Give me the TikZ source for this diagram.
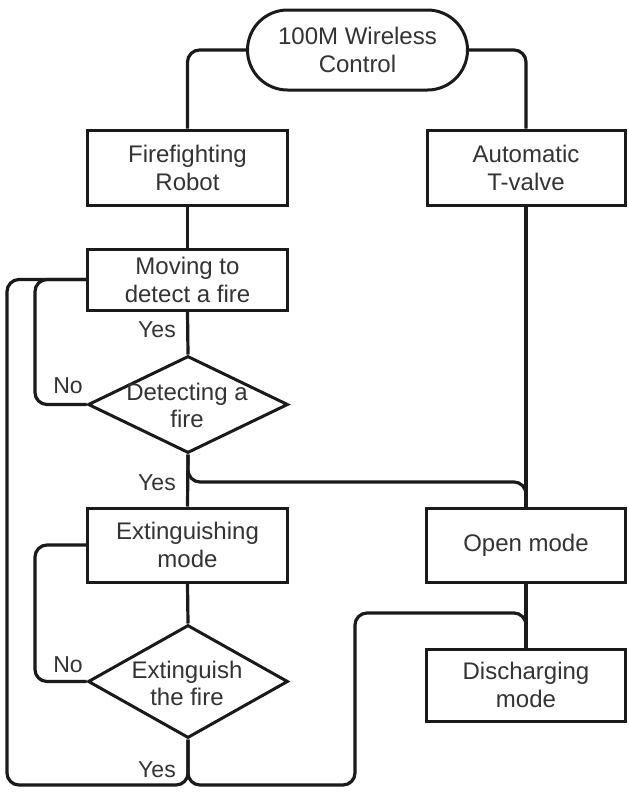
\documentclass[tikz,border=0pt]{standalone}
\usepackage{fontspec}
\setmainfont{Liberation Sans}
\usetikzlibrary{shapes.geometric}
\definecolor{ink}{HTML}{1A1A1A}
\definecolor{txt}{HTML}{333333}
\tikzset{
  x=1pt, y=-1pt,
  base/.style={draw=ink, line width=3pt, text=txt, inner sep=0pt, align=center,
    font=\fontsize{24}{28}\selectfont},
  procbox/.style={base, rectangle, minimum width=200pt},
  termbox/.style={base, rectangle, rounded corners=40pt, minimum width=220pt, minimum height=80pt},
  decide/.style={draw=ink, line width=3pt, diamond, inner sep=0pt, minimum width=200pt},
  dtext/.style={text=txt, align=center, font=\fontsize{24}{27}\selectfont},
  lbl/.style={text=txt, font=\fontsize{23}{27}\selectfont},
  link/.style={draw=ink, line width=3.2pt, rounded corners=12pt},
}
\begin{document}
\begin{tikzpicture}
\useasboundingbox (0,0) rectangle (629,793);
\fill[white] (0,0) rectangle (629,793);

% main blocks
\node[termbox] (ctrl) at (357.5,50) {100M Wireless\\Control};
\node[procbox, minimum height=75pt] (robot) at (187.5,167.5) {Firefighting\\Robot};
\node[procbox, minimum height=75pt, minimum width=198pt] (valve) at (526,167.5) {Automatic\\T-valve};
\node[procbox, minimum height=61pt] (move) at (187.5,279.5) {Moving to\\detect a fire};
\node[decide, minimum height=97pt] (detect) at (188,404.5) {};
\node[dtext] (detectT) at (187,405) {Detecting a\\fire};
\node[procbox, minimum height=74pt] (ext) at (187.5,545) {Extinguishing\\mode};
\node[procbox, minimum height=74pt, minimum width=199pt] (open) at (526,545) {Open mode};
\node[decide, minimum height=113pt] (extq) at (188,681.5) {};
\node[dtext] (extqT) at (187,683) {Extinguish\\the fire};
\node[procbox, minimum height=72pt, minimum width=199pt] (dis) at (526,685) {Discharging\\mode};

% routing points
\coordinate (loopIn) at (35,0);
\coordinate (loopOut) at (7,0);
\coordinate (busA) at (0,482);
\coordinate (busB) at (0,785);
\coordinate (riser) at (355,613);

% connectors
\draw[link] (ctrl.west) -| (robot.north);
\draw[link] (ctrl.east) -| (valve.north);
\draw[link] (robot.south) -- (move.north);
\draw[link] (move.south) -- (detect.north);
\draw[link] (detect.west) -- (detect.west -| loopIn) -- (move.west -| loopIn) -- (move.west);
\draw[link] (detect.south) -- (ext.north);
\draw[link] (detect.south) -- (detect.south |- busA) -- (open.north |- busA) -- (open.north);
\draw[link] (valve.south) -- (open.north);
\draw[link] (open.south) -- (dis.north);
\draw[link] (ext.south) -- (extq.north);
\draw[link] (extq.west) -- (extq.west -| loopIn) -- (ext.west -| loopIn) -- (ext.west);
\draw[link] (extq.south) -- (extq.south |- busB) -- (loopOut |- busB) -- (move.west -| loopOut) -- (move.west);
\draw[link] (extq.south) -- (extq.south |- busB) -- (riser |- busB) -- (riser) -- (riser -| dis.north) -- (dis.north);

% branch labels
\node[lbl] (yes1) at (157,330) {Yes};
\node[lbl] (no1) at (68,386) {No};
\node[lbl] (yes2) at (157,483) {Yes};
\node[lbl] (no2) at (68,665) {No};
\node[lbl] (yes3) at (157,770) {Yes};
\end{tikzpicture}
\end{document}
